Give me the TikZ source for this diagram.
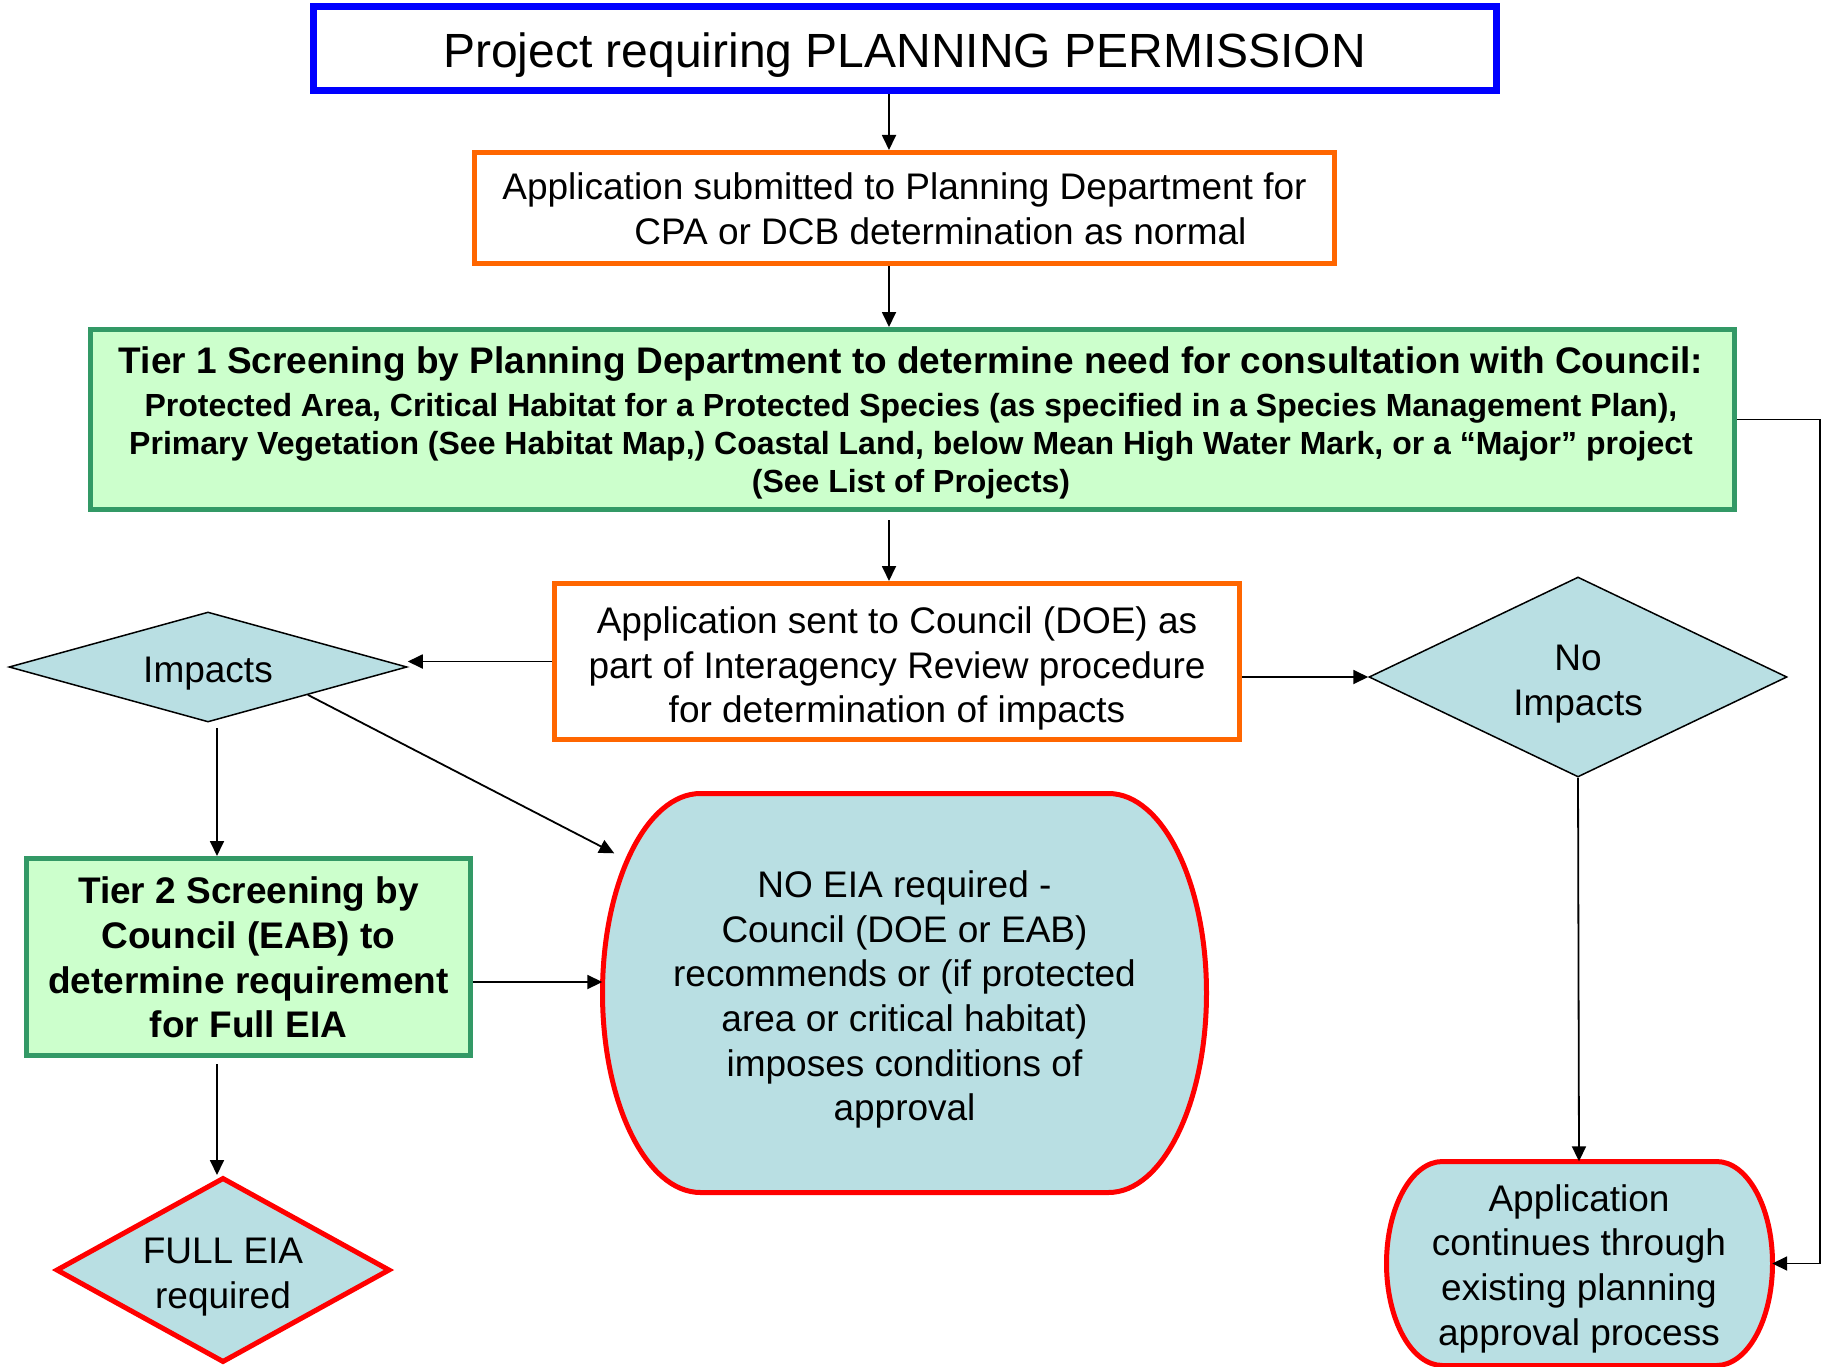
\documentclass[tikz,border=0pt]{standalone}
\usepackage{fontspec}
\setmainfont{Liberation Sans}
\usetikzlibrary{shapes.geometric,arrows.meta}
\definecolor{bblue}{RGB}{0,0,255}
\definecolor{borange}{RGB}{255,102,0}
\definecolor{bgreen}{RGB}{51,153,102}
\definecolor{fgreen}{RGB}{204,255,204}
\definecolor{bred}{RGB}{255,0,0}
\definecolor{fcyan}{RGB}{185,223,227}
\begin{document}
\begin{tikzpicture}[x=1pt,y=-1pt,
  txt/.style={font=\fontsize{37}{44.7}\selectfont, align=center, inner sep=0pt},
  btxt/.style={font=\bfseries\fontsize{37}{44.7}\selectfont, align=center, inner sep=0pt},
  obox/.style={draw=borange, line width=5pt, inner sep=0pt},
  gbox/.style={draw=bgreen, fill=fgreen, line width=5pt, inner sep=0pt},
  dia/.style={diamond, fill=fcyan, inner sep=0pt},
  redshape/.style={draw=bred, fill=fcyan, line width=5pt},
  arr/.style={line width=1.8pt, -{Triangle[length=15pt,width=14pt]}}
]
\useasboundingbox (0,0) rectangle (1823,1367);

% title
\node[draw=bblue, line width=7pt, minimum width=1183pt, minimum height=84pt, inner sep=0pt] (title) at (904.5,49) {};
\node[inner sep=0pt, font=\fontsize{48}{56}\selectfont] (title-t) at (904.5,55.5) {Project requiring PLANNING PERMISSION};

% application submitted
\node[obox, minimum width=860pt, minimum height=111pt] (app) at (904.5,208) {};
\node[txt] (app-t) at (904.5,209)
  {Application submitted to Planning Department for\\\hspace*{72pt}CPA or DCB determination as normal};

% tier 1
\node[gbox, minimum width=1644pt, minimum height=180pt] (tier1) at (912.5,419.5) {};
\node[align=center, inner sep=0pt, font=\bfseries\fontsize{32}{38}\selectfont] (tier1-t) at (911,423)
  {{\fontsize{37}{43}\selectfont Tier 1 Screening by Planning Department to determine need for consultation with Council:}\\[5pt]
   Protected Area, Critical Habitat for a Protected Species (as specified in a Species Management Plan),\\
   Primary Vegetation (See Habitat Map,) Coastal Land, below Mean High Water Mark, or a “Major” project\\
   (See List of Projects)};

% application sent to council
\node[obox, minimum width=685pt, minimum height=156pt] (appsent) at (897,661.5) {};
\node[txt] (appsent-t) at (897,668.5)
  {Application sent to Council (DOE) as\\part of Interagency Review procedure\\for determination of impacts};

% diamonds
\node[dia, draw=black, line width=1.5pt, minimum width=398pt, minimum height=110pt] (impacts) at (208,667) {};
\node[txt] (impacts-t) at (208,674) {Impacts};
\node[dia, draw=black, line width=1.5pt, minimum width=418pt, minimum height=200pt] (noimp) at (1578,677) {};
\node[txt] (noimp-t) at (1578,684) {No\\Impacts};

% tier 2
\node[gbox, minimum width=444pt, minimum height=197pt] (tier2) at (248.5,957) {};
\node[btxt] (tier2-t) at (248.5,957.5)
  {Tier 2 Screening by\\Council (EAB) to\\determine requirement\\for Full EIA};

% NO EIA shape
\path[redshape] (700.5,793.5) -- (1108.5,793.5)
  .. controls (1162.6,793.5) and (1206.5,882.8) .. (1206.5,993)
  .. controls (1206.5,1103.2) and (1162.6,1192.5) .. (1108.5,1192.5)
  -- (700.5,1192.5)
  .. controls (646.4,1192.5) and (602.5,1103.2) .. (602.5,993)
  .. controls (602.5,882.8) and (646.4,793.5) .. cycle;
\node[inner sep=0pt, minimum width=604pt, minimum height=399pt] (noeia) at (904.5,993) {};
\node[txt] (noeia-t) at (904.5,999.5)
  {NO EIA required -\\Council (DOE or EAB)\\recommends or (if protected\\area or critical habitat)\\imposes conditions of\\approval};

% FULL EIA
\node[dia, draw=bred, line width=5pt, minimum width=334pt, minimum height=185pt] (fulleia) at (223,1270) {};
\node[txt] (fulleia-t) at (223,1277) {FULL EIA\\required};

% Application continues shape
\path[redshape] (1442.5,1161.5) -- (1716.5,1161.5)
  .. controls (1747.4,1161.5) and (1772.5,1207.2) .. (1772.5,1263.5)
  .. controls (1772.5,1319.8) and (1747.4,1365.5) .. (1716.5,1365.5)
  -- (1442.5,1365.5)
  .. controls (1411.6,1365.5) and (1386.5,1319.8) .. (1386.5,1263.5)
  .. controls (1386.5,1207.2) and (1411.6,1161.5) .. cycle;
\node[inner sep=0pt, minimum width=386pt, minimum height=204pt] (appcont) at (1579,1263.5) {};
\node[txt] (appcont-t) at (1579,1268.5)
  {Application\\continues through\\existing planning\\approval process};

% connectors
\coordinate (ax) at (889,0);
\coordinate (vx) at (217,0);
\coordinate (rt) at (1820,0);
\coordinate (hy) at (0,982);
\coordinate (t1b) at ([yshift=-8pt]tier1.south);
\coordinate (ib) at ([yshift=-5pt]impacts.south);
\coordinate (t2b) at ([yshift=-6pt]tier2.south);
\coordinate (eiaend) at ([xshift=12pt,yshift=-60pt]noeia.north west);

\draw[arr] (title.south -| ax) -- (app.north -| ax);
\draw[arr] (app.south -| ax) -- (tier1.north -| ax);
\draw[arr] (t1b -| ax) -- (appsent.north -| ax);
\draw[arr] (appsent.west) -- (appsent.west -| impacts.east);
\draw[arr] (appsent.east |- noimp.west) -- (noimp.west);
\draw[arr] (ib -| vx) -- (tier2.north -| vx);
\draw[arr] (impacts.south east) -- (eiaend);
\draw[arr] (tier2.east |- hy) -- (noeia.west |- hy);
\draw[arr] (t2b -| vx) -- (fulleia.north -| vx);
\draw[arr] (noimp.south) -- (appcont.north);
\draw[arr] (tier1.east) -- (tier1.east -| rt) |- (appcont.east);
\end{tikzpicture}
\end{document}
